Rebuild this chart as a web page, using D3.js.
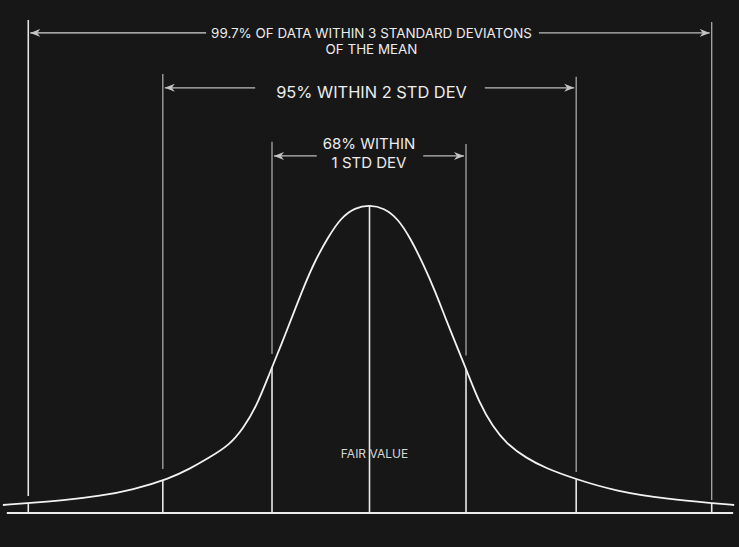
<!DOCTYPE html>
<html>
<head>
<meta charset="utf-8">
<script src="https://cdn.jsdelivr.net/npm/d3@7"></script>
<style>
  body { margin: 0; background: #171717; }
  svg { display: block; }
  text { font-family: Inter, "Open Sans", sans-serif; fill: #ececec; }
</style>
</head>
<body>
<svg id="chart"></svg>
<script>
var width = 739,
    height = 547;

// hand drawn bell: position along the axis (std dev units) and height (peak = 1)
var curveX = [-3.76, -3.50, -3.11, -2.77, -2.43, -2.05, -1.846, -1.641, -1.436, -1.30, -1.16, -1.026, -0.90, -0.77, -0.67, -0.56, -0.42, -0.29, -0.15, 0,
              0.15, 0.29, 0.42, 0.56, 0.67, 0.77, 0.923, 0.995, 1.128, 1.265, 1.402, 1.607, 1.812, 2.085, 2.53, 3.08, 3.52, 3.74];
var curveY = [0.026, 0.032, 0.042, 0.055, 0.075, 0.112, 0.143, 0.180, 0.221, 0.272, 0.345, 0.453, 0.550, 0.656, 0.737, 0.818, 0.898, 0.959, 0.991, 1.0,
              0.990, 0.956, 0.892, 0.802, 0.722, 0.640, 0.519, 0.464, 0.356, 0.280, 0.226, 0.178, 0.145, 0.113, 0.070, 0.044, 0.032, 0.026];

// boundaries at -3..+3 std dev, as they sit in the drawing
var sigma = ["-3", "-2", "-1", "0", "+1", "+2", "+3"];
var boundX = [-3.50, -2.12, -1.0, 0, 0.99, 2.12, 3.51];
var boundTop = [1.60, 1.425, 1.205, null, 1.198, 1.416, 1.594];
var boundGap = [0.055, 0.143, 0.516, null, 0.511, 0.133, 0.042];

// the three bands and their labels
var bandLabels = [
  ["99.7% OF DATA WITHIN 3 STANDARD DEVIATONS", "OF THE MEAN"],
  ["95% WITHIN 2 STD DEV"],
  ["68% WITHIN", "1 STD DEV"]
];
var bandEdges = [[0, 6], [1, 5], [2, 4]];
var bandLevel = [1.558, 1.38, 1.159];
var axisEnds = [-3.72, 3.73];
var fairValue = "FAIR VALUE";

// label styling per band
var bandFont = [13.4, 16.4, 15];
var bandShift = [2, 2, -0.5];
var bandDy = [[5, 21], [10], [-7, 12]];
var bandPad = [[5, 7], [21, 18], [6, 8]];

var x = d3.scaleLinear()
    .domain([-3.79, 3.79])
    .range([0, width]);

var y = d3.scaleLinear()
    .domain([0, 1.665])
    .range([height - 34, 0]);

// height of the curve at any axis position
var curveAt = d3.scaleLinear()
    .domain(curveX)
    .range(curveY);

var svg = d3.select("#chart")
    .attr("width", width)
    .attr("height", height);

svg.append("defs").append("marker")
    .attr("id", "arrow")
    .attr("markerUnits", "userSpaceOnUse")
    .attr("markerWidth", 11)
    .attr("markerHeight", 9)
    .attr("refX", 10)
    .attr("refY", 4.5)
    .attr("orient", "auto-start-reverse")
  .append("path")
    .attr("d", "M0,0.5 L10,4.5 L0,8.5 L3,4.5 Z")
    .attr("fill", "#c4c4c4");

// upper guide lines (grey) above the curve
svg.selectAll(".guide")
    .data(boundX.filter(function(d, i) { return boundTop[i] != null; }))
    .enter().append("line")
    .attr("class", "guide")
    .attr("x1", function(d) { return x(d); })
    .attr("x2", function(d) { return x(d); })
    .attr("y1", function(d) { return y(boundTop[boundX.indexOf(d)]); })
    .attr("y2", function(d) { return y(boundGap[boundX.indexOf(d)]); })
    .attr("stroke", function(d) { return d == boundX[0] ? "#e6e2e2" : "#a8a8a8"; })
    .attr("stroke-width", function(d) { return d == boundX[0] ? 1.6 : 1.3; });

// lower segments from the curve down to the axis
svg.selectAll(".drop")
    .data(boundX)
    .enter().append("line")
    .attr("class", "drop")
    .attr("x1", function(d) { return x(d); })
    .attr("x2", function(d) { return x(d); })
    .attr("y1", function(d) { return y(curveAt(d)); })
    .attr("y2", y(0))
    .attr("stroke", "#e8e8e8")
    .attr("stroke-width", 1.6);

// baseline
svg.append("line")
    .attr("x1", x(axisEnds[0]))
    .attr("x2", x(axisEnds[1]))
    .attr("y1", y(0))
    .attr("y2", y(0))
    .attr("stroke", "#ebebeb")
    .attr("stroke-width", 2);

// the bell
var line = d3.line()
    .x(function(d) { return x(d[0]); })
    .y(function(d) { return y(d[1]); })
    .curve(d3.curveBasis);

svg.append("path")
    .datum(d3.zip(curveX, curveY))
    .attr("fill", "none")
    .attr("stroke", "#f2f2f2")
    .attr("stroke-width", 1.8)
    .attr("d", line);

// band labels with arrows out to the boundaries
bandLabels.forEach(function(lines, b) {
  var g = svg.append("g").attr("class", "band");
  var cy = y(bandLevel[b]);

  g.selectAll("text")
      .data(lines)
      .enter().append("text")
      .attr("x", x(0) + bandShift[b])
      .attr("y", function(d, i) { return cy + bandDy[b][i]; })
      .attr("text-anchor", "middle")
      .style("font-size", bandFont[b] + "px")
      .text(function(d) { return d; });

  var box = g.node().getBBox();
  var left = x(boundX[bandEdges[b][0]]) + 2,
      right = x(boundX[bandEdges[b][1]]) - 2;

  g.append("line")
      .attr("x1", box.x - bandPad[b][0])
      .attr("x2", left)
      .attr("y1", cy)
      .attr("y2", cy)
      .attr("stroke", b == 0 ? "#d6d6d6" : "#bdbdbd")
      .attr("stroke-width", 1.3)
      .attr("marker-end", "url(#arrow)");

  g.append("line")
      .attr("x1", box.x + box.width + bandPad[b][1])
      .attr("x2", right)
      .attr("y1", cy)
      .attr("y2", cy)
      .attr("stroke", "#bdbdbd")
      .attr("stroke-width", 1.3)
      .attr("marker-end", "url(#arrow)");
});

svg.append("text")
    .attr("x", x(0) + 5)
    .attr("y", y(0.179))
    .attr("text-anchor", "middle")
    .style("font-size", "12px")
    .style("fill", "#d6d6d6")
    .text(fairValue);
</script>
</body>
</html>
